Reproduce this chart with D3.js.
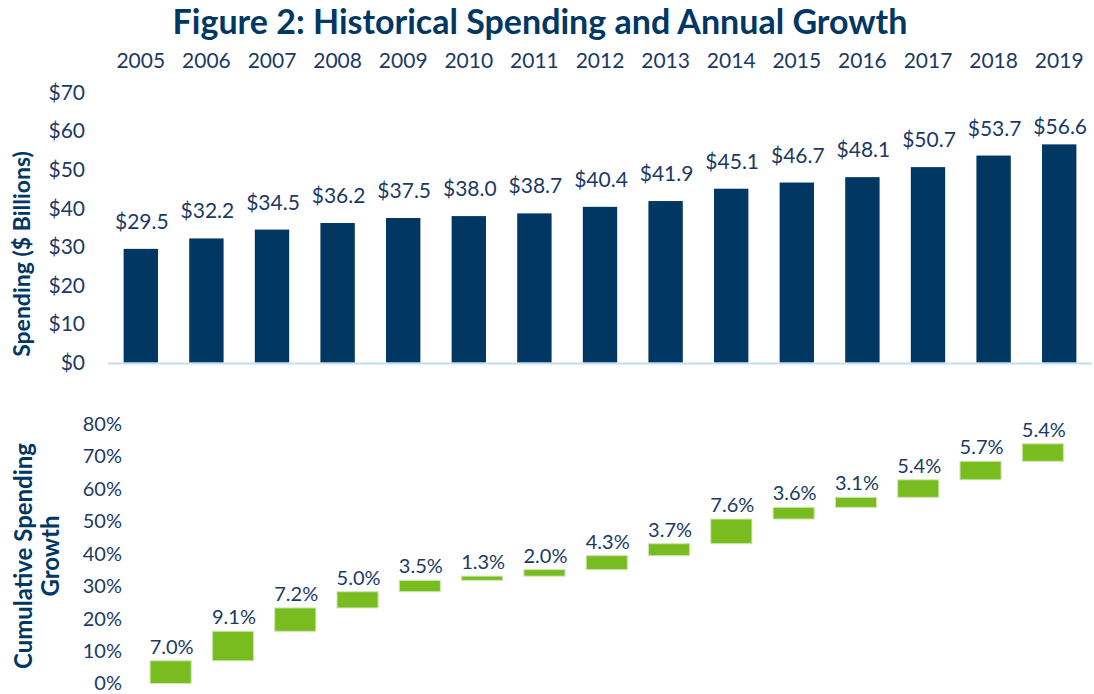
<!DOCTYPE html>
<html>
<head>
<meta charset="utf-8">
<script src="https://cdn.jsdelivr.net/npm/d3@7"></script>
<style>
  body { margin: 0; background: #fff; }
  svg { display: block; font-family: Lato, "Open Sans", sans-serif; }
</style>
</head>
<body>
<script>
let years = ['2005','2006','2007','2008','2009','2010','2011','2012','2013','2014','2015','2016','2017','2018','2019'];
let spending = [29.5, 32.2, 34.5, 36.2, 37.5, 38.0, 38.7, 40.4, 41.9, 45.1, 46.7, 48.1, 50.7, 53.7, 56.6];
let growth = [7.0, 9.1, 7.2, 5.0, 3.5, 1.3, 2.0, 4.3, 3.7, 7.6, 3.6, 3.1, 5.4, 5.7, 5.4];
let spendTicks = [0, 10, 20, 30, 40, 50, 60, 70];
let growthTicks = [0, 10, 20, 30, 40, 50, 60, 70, 80];

let w = 1094, h = 694;
let navy = '#003763', green = '#78BC20', txt = '#1B3A63';

let svg = d3.select('body')
  .append('svg')
  .attr('width', w)
  .attr('height', h);

svg.append('text')
  .text('Figure 2: Historical Spending and Annual Growth')
  .attr('x', 540)
  .attr('y', 34)
  .attr('text-anchor', 'middle')
  .attr('fill', navy)
  .style('font-weight', 'bold')
  .style('font-size', '34px');

// ---- top chart: spending
let x1 = d3.scaleBand()
  .domain(years)
  .range([108, 1092])
  .paddingInner(0.476)
  .paddingOuter(0.238);

let y1 = d3.scaleLinear()
  .domain([0, 70])
  .range([362.6, 92.7]);

let xAxis = svg.append('g')
  .attr('transform', 'translate(0,71)')
  .call(d3.axisTop(x1).tickSize(0).tickPadding(3));
xAxis.select('.domain').remove();
xAxis.selectAll('text')
  .attr('fill', txt)
  .style('font-size', '21px')
  .style('font-family', 'Lato, sans-serif');

let yAxis1 = svg.append('g')
  .attr('transform', 'translate(85,0)')
  .call(d3.axisLeft(y1).tickValues(spendTicks).tickSize(0).tickPadding(0).tickFormat(d => '$' + d));
yAxis1.select('.domain').remove();
yAxis1.selectAll('text')
  .attr('fill', txt)
  .style('font-size', '21px')
  .style('font-family', 'Lato, sans-serif');

svg.selectAll('rect.spend')
  .data(spending)
  .enter()
  .append('rect')
  .attr('class', 'spend')
  .attr('x', (d, i) => x1(years[i]))
  .attr('width', x1.bandwidth())
  .attr('y', d => y1(d))
  .attr('height', d => y1(0) - y1(d))
  .attr('fill', navy);

svg.append('line')
  .attr('x1', x1.range()[0])
  .attr('x2', x1.range()[1])
  .attr('y1', y1(0) + 1)
  .attr('y2', y1(0) + 1)
  .attr('stroke', '#C3DDF3')
  .attr('stroke-width', 2);

svg.selectAll('text.spendLbl')
  .data(spending)
  .enter()
  .append('text')
  .attr('class', 'spendLbl')
  .text(d => '$' + d.toFixed(1))
  .attr('x', (d, i) => x1(years[i]) + x1.bandwidth() / 2 + 1)
  .attr('y', d => Math.max(y1(d) - 20, 134))   // keep inside plot area
  .attr('text-anchor', 'middle')
  .attr('fill', txt)
  .style('font-size', '21px');

svg.append('text')
  .text('Spending ($ Billions)')
  .attr('transform', 'translate(30,254) rotate(-90)')
  .attr('text-anchor', 'middle')
  .attr('fill', navy)
  .style('font-weight', 'bold')
  .style('font-size', '23px');

// ---- bottom chart: cumulative growth waterfall
let ends = d3.cumsum(growth);
let starts = ends.map((e, i) => e - growth[i]);

let x2 = d3.scaleBand()
  .domain(years)
  .range([139.5, 1074])
  .paddingInner(0.34)
  .paddingOuter(0.17);

let y2 = d3.scaleLinear()
  .domain([0, 80])
  .range([683.5, 424]);

let yAxis2 = svg.append('g')
  .attr('transform', 'translate(122,0)')
  .call(d3.axisLeft(y2).tickValues(growthTicks).tickSize(0).tickPadding(0).tickFormat(d => d + '%'));
yAxis2.select('.domain').remove();
yAxis2.selectAll('text')
  .attr('fill', txt)
  .style('font-size', '20px')
  .style('font-family', 'Lato, sans-serif');

svg.selectAll('rect.grow')
  .data(growth)
  .enter()
  .append('rect')
  .attr('class', 'grow')
  .attr('x', (d, i) => x2(years[i]))
  .attr('width', x2.bandwidth())
  .attr('y', (d, i) => y2(ends[i]))
  .attr('height', (d, i) => y2(starts[i]) - y2(ends[i]))
  .attr('fill', green)
  .attr('stroke', '#CFE6B0')
  .attr('stroke-width', 1);

svg.selectAll('text.growLbl')
  .data(growth)
  .enter()
  .append('text')
  .attr('class', 'growLbl')
  .text(d => d.toFixed(1) + '%')
  .attr('x', (d, i) => x2(years[i]) + x2.bandwidth() / 2 + 1)
  .attr('y', (d, i) => y2(ends[i]) - 7)
  .attr('text-anchor', 'middle')
  .attr('fill', txt)
  .style('font-size', '20px');

let gTitle = svg.append('text')
  .attr('transform', 'translate(0,556) rotate(-90)')
  .attr('text-anchor', 'middle')
  .attr('fill', navy)
  .style('font-weight', 'bold')
  .style('font-size', '24px');
gTitle.append('tspan').attr('x', 0).attr('y', 32).text('Cumulative Spending');
gTitle.append('tspan').attr('x', 0).attr('y', 59).text('Growth');
</script>
</body>
</html>
